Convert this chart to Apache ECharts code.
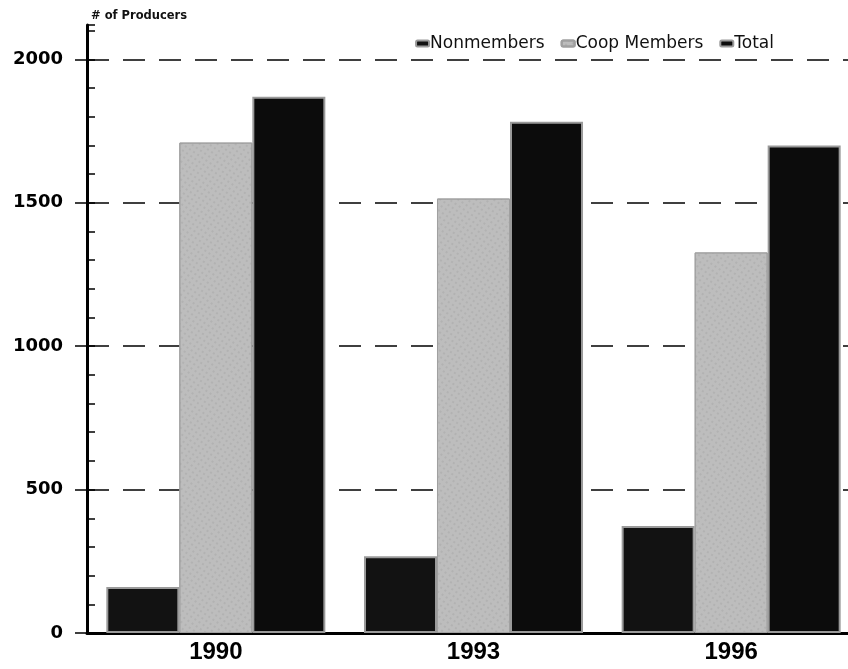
<!DOCTYPE html>
<html>
<head>
<meta charset="utf-8">
<script src="https://cdn.jsdelivr.net/npm/echarts@6/dist/echarts.min.js"></script>
<style>
  html, body { margin: 0; padding: 0; background: #fff; overflow: hidden; }
  /* the plot runs a little past the right edge of the picture */
  #main { width: 862px; height: 669px; }
</style>
</head>
<body>
<div id="main"></div>
<script>
// data
var years = ['1990', '1993', '1996'];
var nonmembers = [160, 268, 373];
var coopMembers = [1710, 1515, 1327];
var total = [1870, 1783, 1700];
var yTicks = [0, 500, 1000, 1500, 2000];

var font = '"Liberation Sans", Arial, sans-serif';
var wide = '"DejaVu Sans", sans-serif';

var myChart = echarts.init(document.getElementById('main'));

myChart.setOption({
  animation: false,
  title: {
    text: '# of Producers',
    left: 86,
    top: 5,
    textStyle: { fontFamily: wide, fontSize: 11.5, fontWeight: 'bold', color: '#111' }
  },
  legend: {
    top: 30,
    right: 83,
    itemWidth: 13,
    itemHeight: 6,
    itemGap: 16,
    textStyle: { fontFamily: wide, fontSize: 17, color: '#111', padding: [0, 0, 0, -4] },
    data: ['Nonmembers', 'Coop Members', 'Total']
  },
  grid: { left: 87, right: 2, top: 25, bottom: 36 },
  xAxis: {
    type: 'category',
    data: years,
    axisLine: { lineStyle: { color: '#000', width: 3 } },
    axisTick: { alignWithLabel: true, length: 6, lineStyle: { color: '#000', width: 2 } },
    axisLabel: { fontFamily: font, fontSize: 24, fontWeight: 'bold', color: '#000', margin: 7 }
  },
  yAxis: [{
    type: 'value',
    min: 0,
    max: 2120,
    interval: 500,
    axisLine: { show: true, lineStyle: { color: '#000', width: 3 } },
    axisTick: { show: true, length: 12, lineStyle: { color: '#000', width: 1.5 } },
    axisLabel: {
      fontFamily: wide, fontSize: 18, fontWeight: 'bold', color: '#000', margin: 24,
      showMaxLabel: false,
      formatter: function (v) { return yTicks.indexOf(v) >= 0 ? String(v) : ''; }
    },
    splitLine: { show: true, showMaxLine: false, lineStyle: { color: '#000', width: 1.5, type: [22, 14] } }
  }, {
    type: 'value',
    position: 'left',
    min: 0,
    max: 2120,
    interval: 100,
    axisLine: { show: false },
    axisTick: { show: true, inside: true, length: 8, lineStyle: { color: '#000', width: 1.5 } },
    axisLabel: { show: false },
    splitLine: { show: false }
  }],
  series: [{
    name: 'Nonmembers',
    type: 'bar',
    data: nonmembers,
    barGap: '0%',
    barCategoryGap: '15%',
    itemStyle: { color: '#121212', borderColor: '#9a9a9a', borderWidth: 2 }
  }, {
    name: 'Coop Members',
    type: 'bar',
    data: coopMembers,
    itemStyle: {
      color: '#bdbdbd', borderColor: '#a0a0a0', borderWidth: 1,
      decal: { symbol: 'rect', symbolSize: 0.5, color: 'rgba(60,60,60,0.35)', dashArrayX: [2, 3], dashArrayY: [2, 3], rotation: 0.6 }
    }
  }, {
    name: 'Total',
    type: 'bar',
    data: total,
    itemStyle: { color: '#0c0c0c', borderColor: '#9a9a9a', borderWidth: 2 }
  }]
});
</script>
</body>
</html>
